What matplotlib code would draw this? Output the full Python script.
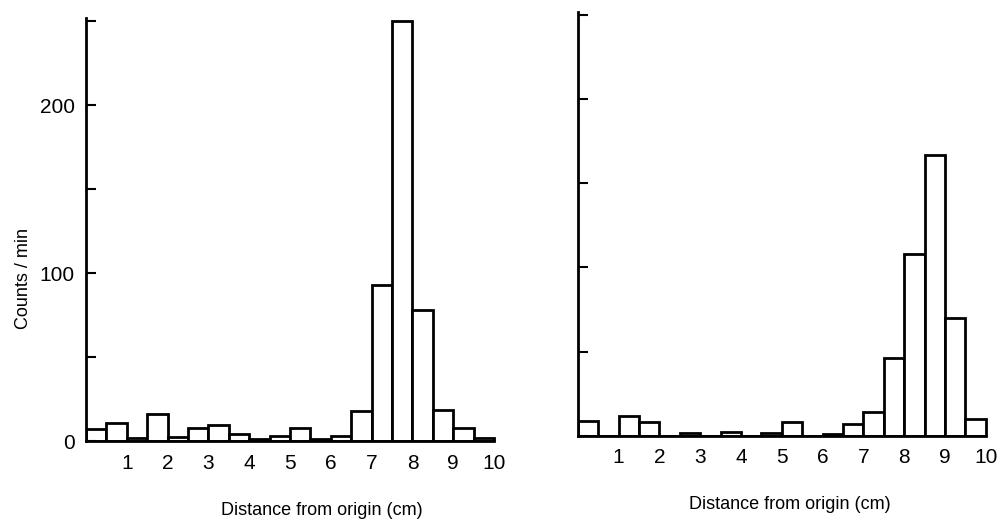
import numpy as np
import matplotlib.pyplot as plt

plt.rcParams['font.family'] = ['Liberation Sans', 'DejaVu Sans']

# radioactivity scanned along the strip, 0.5 cm segments
edges = np.arange(0, 10, 0.5)
counts_a = [7, 11, 2, 16, 2.5, 8, 9.5, 4, 1, 3,
            8, 1, 3, 18, 93, 250, 78, 18.5, 8, 2]
counts_b = [9, 0, 12, 8, 0, 1.5, 0, 2, 0, 1.5,
            8, 0, 1, 7, 14, 46, 108, 167, 70, 10]

x_ticks = list(range(1, 11))
y_ticks = [0, 50, 100, 150, 200, 250]
y_labels = ['0', '', '100', '', '200', '']

fig = plt.figure(figsize=(10.03, 5.27), dpi=100)
ax1 = fig.add_axes([0.0857, 0.163, 0.411, 0.803])
ax2 = fig.add_axes([0.576, 0.173, 0.411, 0.805])

for ax, counts in ((ax1, counts_a), (ax2, counts_b)):
    ax.bar(edges, counts, width=0.5, align='edge', facecolor='white',
           edgecolor='black', linewidth=2)
    ax.set_xlim(0, 10.1)
    ax.set_ylim(0, 252)
    for side in ('top', 'right'):
        ax.spines[side].set_visible(False)
    ax.spines['left'].set_linewidth(2)
    ax.spines['bottom'].set_linewidth(2)
    ax.spines['bottom'].set_bounds(0, 10)
    ax.set_xticks(x_ticks)
    ax.set_xticklabels([str(t) for t in x_ticks], fontsize=15)
    ax.tick_params(axis='x', length=0, pad=9)
    ax.set_yticks(y_ticks)
    ax.tick_params(axis='y', direction='in', length=7, width=1.5, labelsize=15)
    ax.set_xlabel('Distance from origin (cm)', fontsize=13)

ax1.set_yticklabels(y_labels)
ax1.tick_params(axis='y', pad=8)
ax2.set_yticklabels([''] * len(y_ticks))
ax1.set_ylabel('Counts / min', fontsize=13)

ax1.xaxis.set_label_coords(0.573, -0.145)
ax2.xaxis.set_label_coords(0.515, -0.142)
ax1.yaxis.set_label_coords(-0.13, 0.385)

fig.savefig('out.png', dpi=100)
